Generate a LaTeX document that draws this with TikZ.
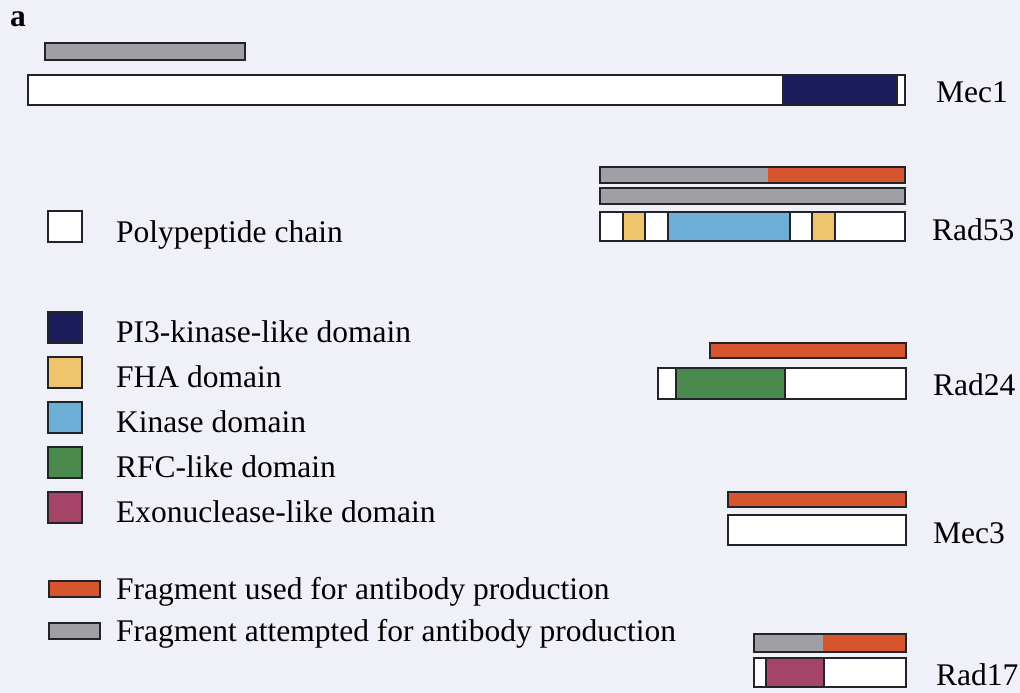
\documentclass[tikz,border=0pt]{standalone}
\usepackage{fontspec}
\setmainfont{Liberation Serif}
\definecolor{bg}{RGB}{240,240,249}
\definecolor{edge}{RGB}{35,35,42}
\definecolor{pikk}{RGB}{28,30,92}
\definecolor{fha}{RGB}{238,196,108}
\definecolor{kin}{RGB}{108,174,214}
\definecolor{rfc}{RGB}{74,138,76}
\definecolor{exo}{RGB}{166,68,104}
\definecolor{used}{RGB}{214,84,46}
\definecolor{tried}{RGB}{160,160,164}
\begin{document}
\begin{tikzpicture}[x=1pt,y=-1pt,
  outl/.style={draw=edge, line width=2.5pt},
  lbl/.style={anchor=base west, inner sep=0pt, font=\fontsize{31.5}{36}\selectfont}]
\fill[bg] (0,0) rectangle (1020,693);
\useasboundingbox (0,0) rectangle (1020,693);

% panel letter
\node[lbl, font=\fontsize{31.5}{36}\selectfont\bfseries] (panel) at (10,27) {a};

% ---- Mec1 ----
\draw[outl, fill=tried] (45,43) rectangle (245,60);
\draw[outl, fill=white] (28,75) rectangle (905,105);
\draw[outl, fill=pikk] (783,75) rectangle (897,105);
\node[lbl] (mec1) at (936,102) {Mec1};

% ---- Rad53 ----
\fill[tried] (600,167) rectangle (768,183);
\fill[used] (768,167) rectangle (905,183);
\draw[outl] (600,167) rectangle (905,183);
\draw[outl, fill=tried] (600,188) rectangle (905,204);
\draw[outl, fill=white] (600,212) rectangle (905,241);
\draw[outl, fill=fha] (623,212) rectangle (645,241);
\draw[outl, fill=kin] (668,212) rectangle (790,241);
\draw[outl, fill=fha] (812,212) rectangle (835,241);
\node[lbl] (rad53) at (932,240) {Rad53};

% ---- Rad24 ----
\draw[outl, fill=used] (710,343) rectangle (906,358);
\draw[outl, fill=white] (658,368) rectangle (906,399);
\draw[outl, fill=rfc] (676,368) rectangle (785,399);
\node[lbl] (rad24) at (933,395) {Rad24};

% ---- Mec3 ----
\draw[outl, fill=used] (728,492) rectangle (906,507);
\draw[outl, fill=white] (728,515) rectangle (906,545);
\node[lbl] (mec3) at (933,543) {Mec3};

% ---- Rad17 ----
\fill[tried] (754,634) rectangle (823,652);
\fill[used] (823,634) rectangle (906,652);
\draw[outl] (754,634) rectangle (906,652);
\draw[outl, fill=white] (754,658) rectangle (906,687);
\draw[outl, fill=exo] (766,658) rectangle (824,687);
\node[lbl] (rad17) at (936,685) {Rad17};

% ---- legend ----
\draw[outl, fill=white] (48,211) rectangle (82,242);
\node[lbl] (lchain) at (116,242) {Polypeptide chain};

\draw[outl, fill=pikk] (48,312) rectangle (82,343);
\node[lbl] (lpikk) at (116,342) {PI3-kinase-like domain};
\draw[outl, fill=fha] (48,357) rectangle (82,388);
\node[lbl] (lfha) at (116,387) {FHA domain};
\draw[outl, fill=kin] (48,402) rectangle (82,433);
\node[lbl] (lkin) at (116,432) {Kinase domain};
\draw[outl, fill=rfc] (48,447) rectangle (82,478);
\node[lbl] (lrfc) at (116,477) {RFC-like domain};
\draw[outl, fill=exo] (48,492) rectangle (82,523);
\node[lbl] (lexo) at (116,522) {Exonuclease-like domain};

\draw[outl, fill=used] (49,581) rectangle (100,597);
\node[lbl] (lused) at (116,599) {Fragment used for antibody production};
\draw[outl, fill=tried] (49,623) rectangle (100,639);
\node[lbl] (ltried) at (116,641) {Fragment attempted for antibody production};
\end{tikzpicture}
\end{document}
